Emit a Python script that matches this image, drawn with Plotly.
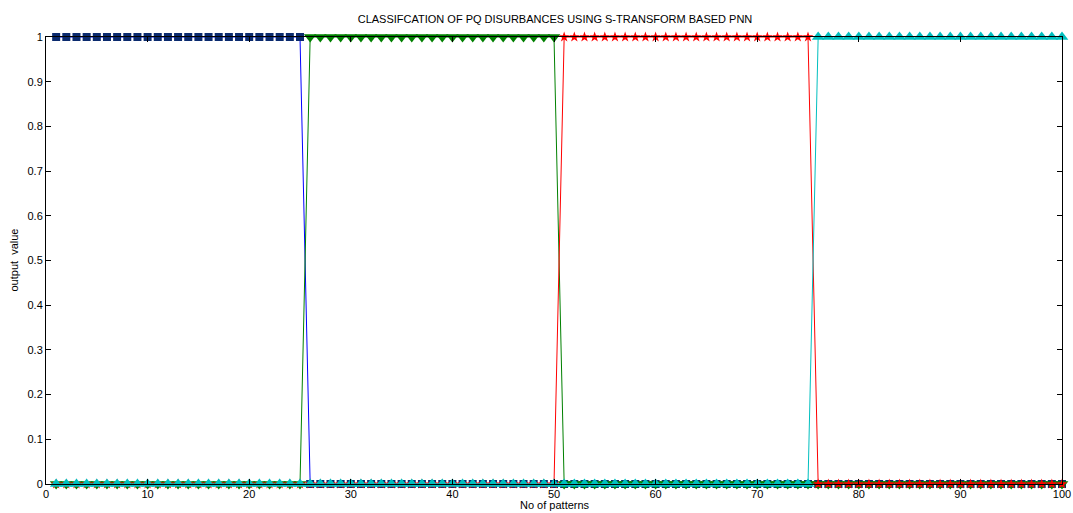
import plotly.graph_objects as go

x = list(range(1, 101))
class1 = [1]*25 + [0]*75
class2 = [0]*25 + [1]*25 + [0]*50
class3 = [0]*50 + [1]*25 + [0]*25
class4 = [0]*75 + [1]*25

series = [
    (class1, "#0000ff", "#0a2a6e", "square", 8),
    (class2, "#008000", "#008000", "triangle-down", 11),
    (class3, "#ff0000", "#ff0000", "star", 8),
    (class4, "#00bfbf", "#00bfbf", "triangle-up", 11),
]

fig = go.Figure()
for y, lc, mc, sym, sz in series:
    fig.add_trace(go.Scatter(
        x=x, y=y, mode="lines+markers",
        line=dict(color=lc, width=1),
        marker=dict(symbol=sym, size=sz, color=mc, line=dict(width=0)),
        showlegend=False, cliponaxis=False))

font = dict(family="Liberation Sans, Arial", size=11, color="black")
axis_common = dict(showline=True, linecolor="black", linewidth=1, mirror="ticks",
                   ticks="inside", ticklen=5, tickcolor="black", showgrid=False,
                   zeroline=False, tickfont=font, automargin=False)
fig.update_xaxes(range=[0, 100], dtick=10, tick0=0, **axis_common)
fig.update_yaxes(range=[0, 1], dtick=0.1, tick0=0, **axis_common)

W, H = 1073, 513
L, R, T, B = 46, 11, 37, 29
pw, ph = W - L - R, H - T - B
fig.update_layout(
    width=W, height=H,
    margin=dict(l=L, r=R, t=T, b=B, autoexpand=False),
    paper_bgcolor="white", plot_bgcolor="white",
    title=dict(text="CLASSIFCATION OF PQ DISURBANCES USING S-TRANSFORM BASED PNN",
               x=555 / W, xanchor="center", y=1 - 19 / H, yanchor="middle",
               font=font),
    annotations=[
        dict(text="No of patterns", xref="paper", yref="paper",
             x=(555 - L) / pw, y=-(505 - (H - B)) / ph,
             xanchor="center", yanchor="middle", showarrow=False, font=font),
        dict(text="output  value", xref="paper", yref="paper",
             x=-(L - 13) / pw, y=0.5, textangle=-90,
             xanchor="center", yanchor="middle", showarrow=False, font=font),
    ],
)
fig.write_html("out.html", default_width="1073px", default_height="513px",
               config={"displayModeBar": False},
               post_script="document.body.style.margin='0';document.body.style.overflow='hidden';")
